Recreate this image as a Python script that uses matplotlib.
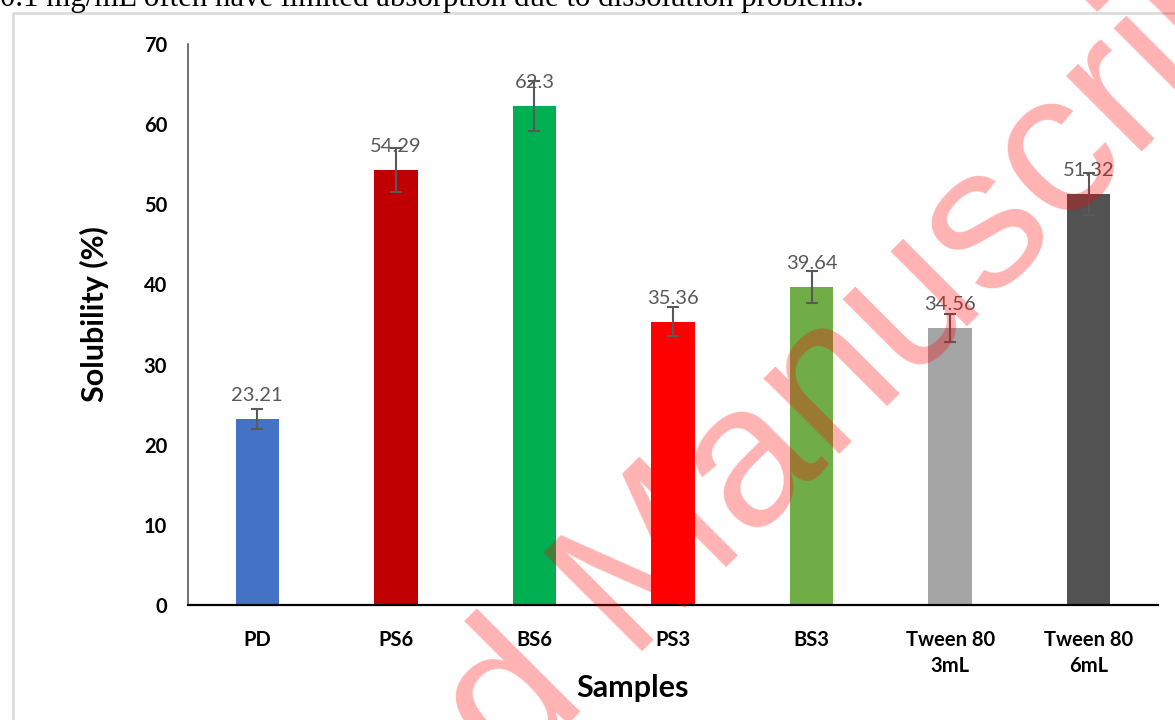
import matplotlib
matplotlib.use('Agg')
import matplotlib.pyplot as plt
from matplotlib.patches import Rectangle

samples = ['PD', 'PS6', 'BS6', 'PS3', 'BS3', 'Tween 80\n3mL', 'Tween 80\n6mL']
solubility = [23.21, 54.29, 62.3, 35.36, 39.64, 34.56, 51.32]
errors = [1.25, 2.7, 3.1, 1.85, 2.0, 1.8, 2.6]
colors = ['#4472C4', '#C00000', '#00B050', '#FF0000', '#70AD47', '#A5A5A5', '#525252']
y_ticks = [0, 10, 20, 30, 40, 50, 60, 70]

plt.rcParams['font.family'] = ['Lato', 'DejaVu Sans']

fig = plt.figure(figsize=(11.75, 7.2), dpi=100)
ax = fig.add_axes([0.160, 0.1597, 0.8255, 0.7792])

x = list(range(len(samples)))
ax.bar(x, solubility, width=0.3125, color=colors, zorder=2)
ax.errorbar(x, solubility, yerr=errors, fmt='none', ecolor='#595959',
            elinewidth=1.5, capsize=4.5, capthick=1.5, zorder=3)

for xi, v in zip(x, solubility):
    ax.annotate(f'{v:g}', (xi, v), xytext=(0, 13), textcoords='offset points',
                ha='center', va='baseline', fontsize=14.5, color='#595959')

ax.set_xlim(-0.5, len(samples) - 0.5)
ax.set_ylim(0, 70)
ax.set_yticks(y_ticks)
ax.set_xticks(x)
ax.set_xticklabels(samples, fontweight='bold', fontsize=14.5, linespacing=1.4)
ax.tick_params(axis='both', length=0, labelsize=14.5)
ax.tick_params(axis='x', pad=18)
ax.tick_params(axis='y', pad=15)
for lab in ax.get_yticklabels():
    lab.set_fontweight('bold')

for s in ['top', 'right']:
    ax.spines[s].set_visible(False)
ax.spines['left'].set_color('#595959')
ax.spines['left'].set_linewidth(1.2)
ax.spines['bottom'].set_color('black')
ax.spines['bottom'].set_linewidth(1.6)

fig.text(94 / 1175, 1 - 314 / 720, 'Solubility (%)', rotation=90, ha='center',
         va='center', fontsize=22, fontweight='bold')
fig.text(633 / 1175, 1 - 688 / 720, 'Samples', ha='center', va='center',
         fontsize=22, fontweight='bold')

# page frame and cut-off paragraph text above the figure
fig.patches.append(Rectangle((13 / 1175, -0.1), 1.2, 1.1 - 13 / 720,
                             transform=fig.transFigure, fill=False,
                             edgecolor='#D9D9D9', linewidth=1.8))
fig.text(0, 1 - 6 / 720, '0.1 mg/mL often have limited absorption due to dissolution problems.',
         ha='left', va='baseline', fontsize=22.2, family='Liberation Serif')

# watermark
fig.text(663 / 1175, 89 / 720, 'Accepted Manuscript', rotation=45,
         rotation_mode='anchor', ha='center', va='baseline', fontsize=146,
         family='Liberation Sans', color='#FF0000', alpha=0.3, zorder=10)

fig.savefig('out.png', dpi=100)
